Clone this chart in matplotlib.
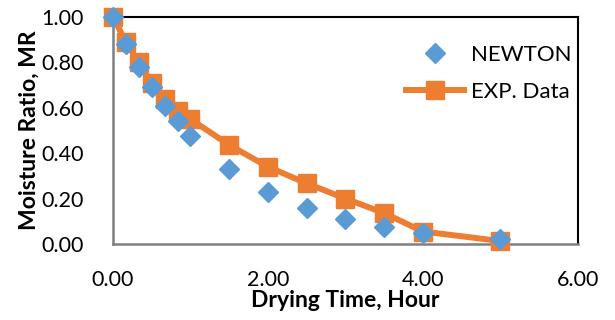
import matplotlib
matplotlib.use("Agg")
import matplotlib.pyplot as plt

plt.rcParams['font.family'] = ['Lato', 'DejaVu Sans']

# drying time (hours) and moisture ratio
time_h = [0.0, 0.167, 0.333, 0.5, 0.667, 0.833, 1.0, 1.5, 2.0, 2.5, 3.0, 3.5, 4.0, 5.0]
mr_exp = [1.00, 0.89, 0.80, 0.71, 0.64, 0.585, 0.55, 0.436, 0.34, 0.267, 0.20, 0.136, 0.055, 0.013]
mr_newton = [1.00, 0.88, 0.78, 0.69, 0.61, 0.54, 0.476, 0.33, 0.23, 0.16, 0.11, 0.075, 0.05, 0.022]

x_ticks = [0, 2, 4, 6]
y_ticks = [0.0, 0.2, 0.4, 0.6, 0.8, 1.0]

orange = '#ED7D31'
blue = '#5B9BD5'

fig = plt.figure(figsize=(6.15, 3.2), dpi=100)
ax = fig.add_axes([0.1837, 0.2375, 0.7561, 0.7094])

ax.plot(time_h, mr_exp, color=orange, lw=4.3, marker='s', ms=13.5,
        label='EXP. Data', clip_on=False, zorder=3)
ax.plot(time_h, mr_newton, ls='none', color=blue, marker='D', ms=10,
        label='NEWTON', clip_on=False, zorder=4)

ax.set_xlim(0, 6)
ax.set_ylim(0, 1)
ax.set_xticks(x_ticks)
ax.set_yticks(y_ticks)
ax.set_xticklabels(['%.2f' % v for v in x_ticks])
ax.set_yticklabels(['%.2f' % v for v in y_ticks])
ax.tick_params(length=0, labelsize=15.5, colors='black')
ax.tick_params(axis='x', pad=19)
ax.tick_params(axis='y', pad=21)

for side in ['top', 'right']:
    ax.spines[side].set_color('black')
    ax.spines[side].set_linewidth(1.5)
for side in ['left', 'bottom']:
    ax.spines[side].set_color('#808080')
    ax.spines[side].set_linewidth(1.8)
    ax.spines[side].set_zorder(2.5)

ax.set_xlabel('Drying Time, Hour', fontsize=16.5, fontweight='bold', labelpad=0)
ax.set_ylabel('Moisture Ratio, MR', fontsize=16.5, fontweight='bold')
ax.yaxis.set_label_coords(-0.158, 0.5)

handles, labels = ax.get_legend_handles_labels()
ax.legend(handles[::-1], labels[::-1], loc='upper right', bbox_to_anchor=(1.03, 0.965),
          frameon=False, fontsize=16, handlelength=2.6, labelspacing=0.75,
          handletextpad=0.35)

fig.savefig('out.png', dpi=100)
